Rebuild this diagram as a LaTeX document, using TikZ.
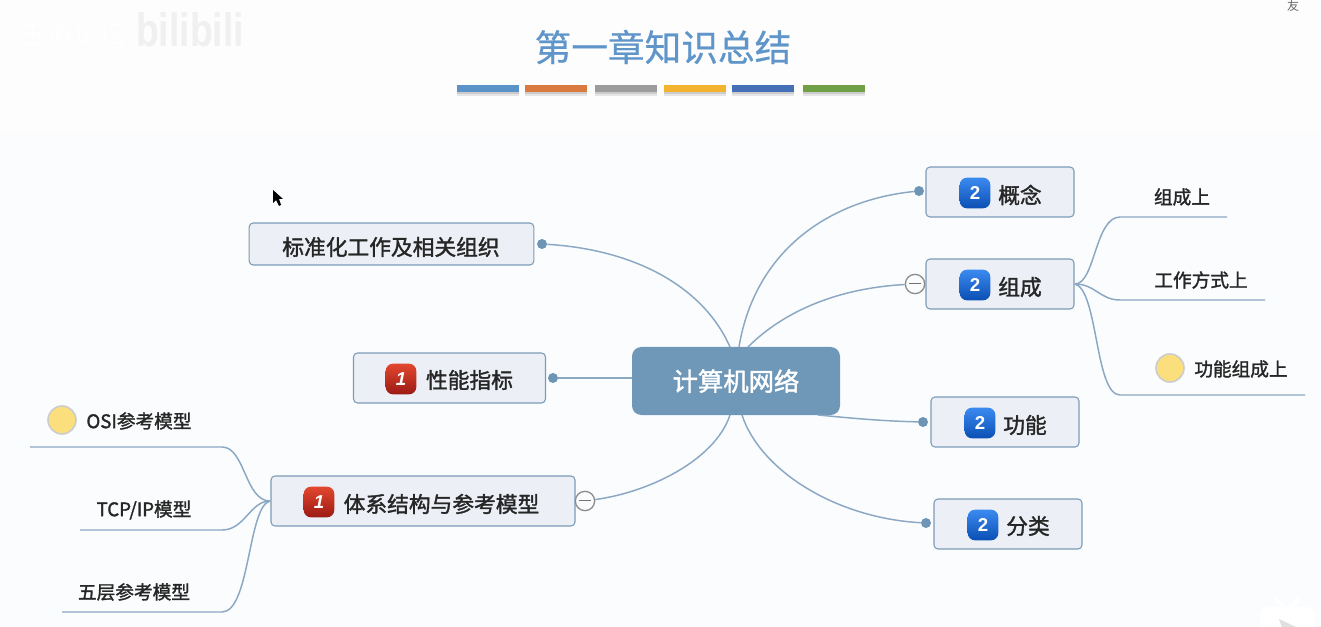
\documentclass[tikz,border=0pt]{standalone}
\usepackage{fontspec}
\setmainfont{Liberation Sans}
\newfontfamily\cjk{Noto Sans CJK SC}
\newfontfamily\cjkmid[FakeBold=0.6]{Noto Sans CJK SC}
\newfontfamily\cjkheavy[FakeBold=1.6]{Noto Sans CJK SC}
\definecolor{linecol}{HTML}{8AA8C4}
\definecolor{boxfill}{HTML}{ECF0F6}
\definecolor{boxline}{HTML}{7C9BB8}
\definecolor{rootcol}{HTML}{6F98B8}
\definecolor{titlecol}{HTML}{5F95C9}
\definecolor{pagecol}{HTML}{FBFCFD}
\definecolor{topcol}{HTML}{FDFDFD}
\definecolor{dotcol}{HTML}{6E95B5}
\definecolor{marker}{HTML}{FBDF7C}
\definecolor{bluetop}{HTML}{3B8AF0}
\definecolor{bluelow}{HTML}{0B4FB4}
\definecolor{redtop}{HTML}{E2472F}
\definecolor{redlow}{HTML}{9C1A14}
\begin{document}
\begin{tikzpicture}
	% mind map on pixel coordinates, y runs downwards
	[x=0.75pt,y=-0.75pt,
	topic/.style={draw=boxline,fill=boxfill,rounded corners=3pt,line width=0.8pt,minimum height=37.5pt,inner sep=0pt},
	root/.style={fill=rootcol,rounded corners=7pt,minimum width=156pt,minimum height=51pt,text=white,font=\cjkheavy\fontsize{19}{19}\selectfont},
	label/.style={font=\cjkheavy\fontsize{16.3}{16.3}\selectfont,text=black!85,inner sep=0pt},
	sublabel/.style={font=\cjkheavy\fontsize{14}{14}\selectfont,text=black!85,inner sep=0pt},
	badge/.style={rounded corners=5.5pt,minimum size=23pt,inner sep=0pt,text=white,font=\bfseries\fontsize{14}{14}\selectfont},
	bluebadge/.style={badge,top color=bluetop,bottom color=bluelow},
	redbadge/.style={badge,top color=redtop,bottom color=redlow},
	endpoint/.style={circle,fill=dotcol,minimum size=7.5pt,inner sep=0pt},
	fold/.style={circle,draw=black!45,fill=pagecol,minimum size=14.5pt,inner sep=0pt,line width=1pt},
	flag/.style={circle,draw=black!20,fill=marker,minimum size=21pt,inner sep=0pt,line width=1.2pt},
	bar/.style={minimum width=46.5pt,minimum height=5.5pt,inner sep=0pt},
	branch/.style={draw=linecol,line width=1.1pt}]

	\useasboundingbox (0,0) rectangle (1321,627);
	\fill[topcol] (0,0) rectangle (1321,133);
	\fill[pagecol] (0,133) rectangle (1321,627);

	% overlay marks of the video
	\node[font=\cjk\fontsize{20}{20}\selectfont,text=white,inner sep=0pt] (forum) at (73,34) {王道论坛};
	\node[font=\bfseries\fontsize{28}{28}\selectfont,text=black!6,inner sep=0pt,yscale=1.25] (site) at (190,30) {bilibili};
	\node[font=\cjk\fontsize{9}{9}\selectfont,text=black!60,inner sep=0pt] (corner) at (1293,6) {友};
	\fill[white,rounded corners=6pt] (1260,640) rectangle (1315,607);
	\draw[white,line width=3pt,line cap=round] (1284,608) -- (1276,599);
	\draw[white,line width=3pt,line cap=round] (1291,608) -- (1298,599);
	\fill[black!12] (1279,619) -- (1282,627) -- (1296,627) -- cycle;

	% heading and coloured bars
	\node[font=\cjkmid\fontsize{27.5}{27.5}\selectfont,text=titlecol,inner sep=0pt] (title) at (663,47) {第一章知识总结};
	\foreach \name/\col/\xpos in {barA/5B93C8/488,barB/DB7A3F/556,barC/9C9C9C/626,barD/F3B32E/695,barE/456FB6/763,barF/70A046/834}{
		\definecolor{barcol}{HTML}{\col}
		\fill[black!10] (\xpos-31,91) rectangle (\xpos+31,96);
		\fill[black!20] (\xpos-31,91) rectangle (\xpos+31,94);
		\node[bar,fill=barcol] (\name) at (\xpos,88.5) {};
	}

	% centre and the boxes round it
	\node[root] (net) at (736,381) {计算机网络};

	\node[topic,minimum width=213.5pt,minimum height=31.5pt] (std) at (391.5,244) {};
	\node[label] (stdtext) at (391,247) {标准化工作及相关组织};
	\node[topic,minimum width=144pt] (perf) at (449.5,378) {};
	\node[redbadge] (perfnum) at (401,379) {\itshape 1};
	\node[label] (perftext) at (469.5,380) {性能指标};
	\node[topic,minimum width=228pt] (arch) at (423,501) {};
	\node[redbadge] (archnum) at (319,502) {\itshape 1};
	\node[label] (archtext) at (441.5,504) {体系结构与参考模型};

	\node[topic,minimum width=111pt] (idea) at (1000,192) {};
	\node[bluebadge] (ideanum) at (975,193) {2};
	\node[label] (ideatext) at (1020,195) {概念};
	\node[topic,minimum width=111pt] (parts) at (1000,284) {};
	\node[bluebadge] (partsnum) at (975,285) {2};
	\node[label] (partstext) at (1020,287) {组成};
	\node[topic,minimum width=111pt] (func) at (1005,422) {};
	\node[bluebadge] (funcnum) at (980,423) {2};
	\node[label] (functext) at (1025,425) {功能};
	\node[topic,minimum width=111pt] (kind) at (1008,524) {};
	\node[bluebadge] (kindnum) at (983,525) {2};
	\node[label] (kindtext) at (1028,526) {分类};

	% end points on the box sides
	\node[endpoint] (stddot) at (542,244) {};
	\node[endpoint] (perfdot) at (553,378) {};
	\node[endpoint] (ideadot) at (919,191) {};
	\node[endpoint] (funcdot) at (923,422) {};
	\node[endpoint] (kinddot) at (926,523) {};
	\node[fold] (partsfold) at (915,284) {\color{black!55}\rule[0.5pt]{9pt}{0.8pt}};
	\node[fold] (archfold) at (585,501) {\color{black!55}\rule[0.5pt]{9pt}{0.8pt}};

	% sub topics
	\node[sublabel] (parta) at (1182,197) {组成上};
	\node[sublabel] (partb) at (1201,280) {工作方式上};
	\node[flag] (partflag) at (1170,368) {};
	\node[sublabel] (partc) at (1241,369) {功能组成上};
	\node[flag] (osiflag) at (62,420) {};
	\node[sublabel] (osi) at (139,421) {OSI参考模型};
	\node[sublabel] (tcp) at (144,510) {TCP/IP模型};
	\node[sublabel] (five) at (134,592) {五层参考模型};

	\coordinate (partaend) at (1227,217);
	\coordinate (partbend) at (1265,300);
	\coordinate (partcend) at (1305,395);
	\coordinate (osiend) at (30,447);
	\coordinate (tcpend) at (80,530);
	\coordinate (fiveend) at (62,612);
	\coordinate (parthub) at (1075,284);
	\coordinate (archhub) at (270,501);
	\coordinate (stdin) at (730,347);
	\coordinate (ideain) at (739,347);
	\coordinate (partsin) at (748,347);
	\coordinate (funcin) at (818,415);
	\coordinate (kindin) at (742,415);
	\coordinate (archin) at (730,415);

	% branches from the centre
	\draw[branch] (stddot) .. controls (640,250) and (705,290) .. (stdin);
	\draw[branch] (perfdot) -- (net.west |- perfdot);
	\draw[branch] (ideadot) .. controls (830,200) and (755,250) .. (ideain);
	\draw[branch] (partsfold) .. controls (840,288) and (785,310) .. (partsin);
	\draw[branch] (funcdot) .. controls (880,421) and (850,418) .. (funcin);
	\draw[branch] (kinddot) .. controls (835,518) and (760,470) .. (kindin);
	\draw[branch] (archfold) .. controls (650,492) and (715,460) .. (archin);

	% branches of the sub topics
	\draw[branch] (parthub) .. controls (1095,284) and (1095,217) .. (1120,217) -- (partaend);
	\draw[branch] (parthub) .. controls (1095,284) and (1100,300) .. (1120,300) -- (partbend);
	\draw[branch] (parthub) .. controls (1098,290) and (1095,395) .. (1120,395) -- (partcend);
	\draw[branch] (archhub) .. controls (245,501) and (245,447) .. (222,447) -- (osiend);
	\draw[branch] (archhub) .. controls (250,501) and (245,530) .. (222,530) -- (tcpend);
	\draw[branch] (archhub) .. controls (248,506) and (250,612) .. (222,612) -- (fiveend);

	% pointer
	\fill[black] (273,190) -- (273,203) -- (276,200) -- (279,206) -- (281,205) -- (279,199) -- (283,199) -- cycle;
\end{tikzpicture}
\end{document}
